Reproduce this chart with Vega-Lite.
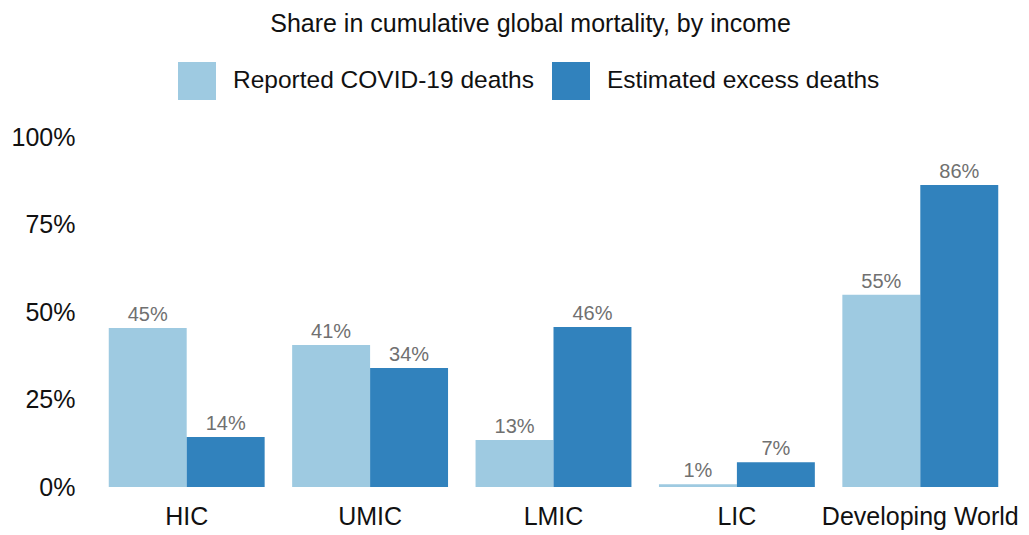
{
  "$schema": "https://vega.github.io/schema/vega-lite/v6.json",
  "autosize": {"type": "none"},
  "width": 917,
  "height": 350,
  "padding": {"left": 95, "top": 137, "right": 17, "bottom": 48},
  "background": "white",
  "config": {
    "view": {"stroke": null},
    "font": "Liberation Sans"
  },
  "title": {
    "text": "Share in cumulative global mortality, by income",
    "fontSize": 25,
    "fontWeight": "normal",
    "color": "#111",
    "anchor": "middle",
    "frame": "group",
    "dx": -23,
    "offset": 25
  },
  "data": {
    "values": [
      {"group": "HIC", "series": "Reported COVID-19 deaths", "share": 0.454},
      {"group": "HIC", "series": "Estimated excess deaths", "share": 0.143},
      {"group": "UMIC", "series": "Reported COVID-19 deaths", "share": 0.406},
      {"group": "UMIC", "series": "Estimated excess deaths", "share": 0.34},
      {"group": "LMIC", "series": "Reported COVID-19 deaths", "share": 0.134},
      {"group": "LMIC", "series": "Estimated excess deaths", "share": 0.457},
      {"group": "LIC", "series": "Reported COVID-19 deaths", "share": 0.008},
      {"group": "LIC", "series": "Estimated excess deaths", "share": 0.071},
      {"group": "Developing World", "series": "Reported COVID-19 deaths", "share": 0.549},
      {"group": "Developing World", "series": "Estimated excess deaths", "share": 0.863}
    ]
  },
  "encoding": {
    "x": {
      "field": "group",
      "type": "nominal",
      "sort": ["HIC", "UMIC", "LMIC", "LIC", "Developing World"],
      "scale": {"paddingInner": 0.15, "paddingOuter": 0.075},
      "axis": {
        "title": null,
        "labelAngle": 0,
        "domain": false,
        "ticks": false,
        "labelFontSize": 25,
        "labelColor": "#111",
        "labelPadding": 17,
        "labelLimit": 400
      }
    },
    "xOffset": {
      "field": "series",
      "type": "nominal",
      "sort": ["Reported COVID-19 deaths", "Estimated excess deaths"],
      "scale": {"paddingInner": 0, "paddingOuter": 0}
    },
    "y": {
      "field": "share",
      "type": "quantitative",
      "scale": {"domain": [0, 1], "nice": false},
      "axis": {
        "title": null,
        "values": [0, 0.25, 0.5, 0.75, 1],
        "format": ".0%",
        "grid": false,
        "domain": false,
        "ticks": false,
        "labelFontSize": 25,
        "labelColor": "#111",
        "labelPadding": 20
      }
    }
  },
  "layer": [
    {
      "mark": {"type": "bar", "stroke": null},
      "encoding": {
        "color": {
          "field": "series",
          "type": "nominal",
          "sort": ["Reported COVID-19 deaths", "Estimated excess deaths"],
          "scale": {
            "domain": ["Reported COVID-19 deaths", "Estimated excess deaths"],
            "range": ["#9ecae1", "#3182bd"]
          },
          "legend": {
            "title": null,
            "orient": "none",
            "direction": "horizontal",
            "legendX": 83,
            "legendY": -75,
            "symbolType": "square",
            "symbolSize": 1444,
            "symbolStrokeWidth": 0,
            "symbolOpacity": 1,
            "labelFontSize": 24.5,
            "labelColor": "#111",
            "labelOffset": 17,
            "columnPadding": 18,
            "labelLimit": 400,
            "padding": 0
          }
        }
      }
    },
    {
      "mark": {"type": "text", "baseline": "bottom", "dy": -3, "fontSize": 20, "color": "#707070"},
      "encoding": {
        "text": {"field": "share", "type": "quantitative", "format": ".0%"}
      }
    }
  ]
}
